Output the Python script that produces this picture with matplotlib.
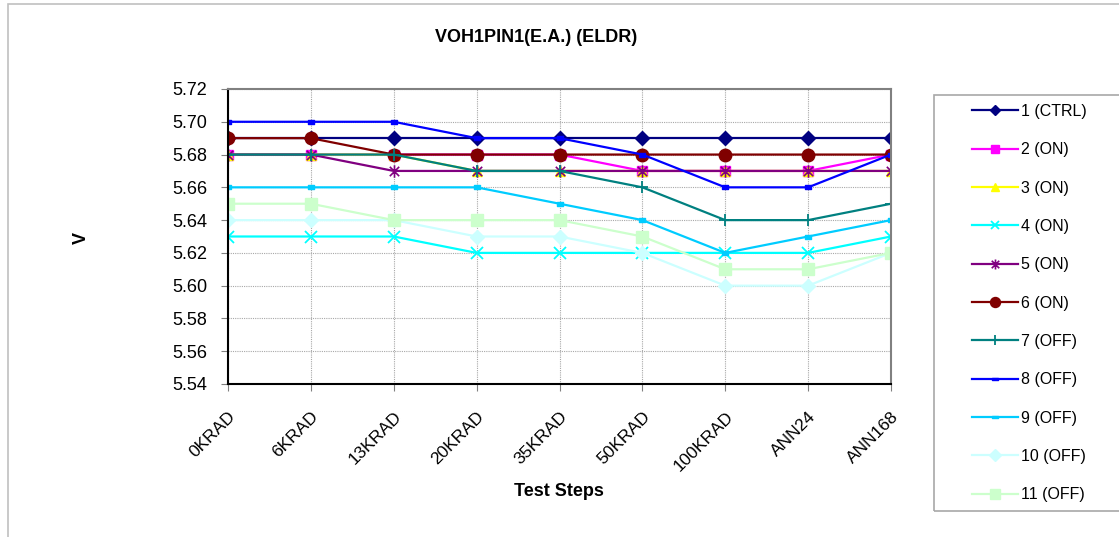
import matplotlib
matplotlib.use("Agg")
import matplotlib.pyplot as plt
from matplotlib.path import Path
from matplotlib.patches import Rectangle
from matplotlib.ticker import FormatStrFormatter, MultipleLocator

plt.rcParams['font.family'] = ['Liberation Sans', 'DejaVu Sans']

categories = ["0KRAD", "6KRAD", "13KRAD", "20KRAD", "35KRAD", "50KRAD", "100KRAD", "ANN24", "ANN168"]
series_names = ["1 (CTRL)", "2 (ON)", "3 (ON)", "4 (ON)", "5 (ON)", "6 (ON)",
                "7 (OFF)", "8 (OFF)", "9 (OFF)", "10 (OFF)", "11 (OFF)"]
s1 = [5.69, 5.69, 5.69, 5.69, 5.69, 5.69, 5.69, 5.69, 5.69]
s2 = [5.68, 5.68, 5.68, 5.68, 5.68, 5.67, 5.67, 5.67, 5.68]
s3 = [5.68, 5.68, 5.68, 5.67, 5.67, 5.67, 5.67, 5.67, 5.67]
s4 = [5.63, 5.63, 5.63, 5.62, 5.62, 5.62, 5.62, 5.62, 5.63]
s5 = [5.68, 5.68, 5.67, 5.67, 5.67, 5.67, 5.67, 5.67, 5.67]
s6 = [5.69, 5.69, 5.68, 5.68, 5.68, 5.68, 5.68, 5.68, 5.68]
s7 = [5.68, 5.68, 5.68, 5.67, 5.67, 5.66, 5.64, 5.64, 5.65]
s8 = [5.70, 5.70, 5.70, 5.69, 5.69, 5.68, 5.66, 5.66, 5.68]
s9 = [5.66, 5.66, 5.66, 5.66, 5.65, 5.64, 5.62, 5.63, 5.64]
s10 = [5.64, 5.64, 5.64, 5.63, 5.63, 5.62, 5.60, 5.60, 5.62]
s11 = [5.65, 5.65, 5.64, 5.64, 5.64, 5.63, 5.61, 5.61, 5.62]
all_series = [s1, s2, s3, s4, s5, s6, s7, s8, s9, s10, s11]

asterisk = Path([(0, -1), (0, 1), (-0.75, -0.75), (0.75, 0.75), (-0.75, 0.75), (0.75, -0.75)],
                [Path.MOVETO, Path.LINETO, Path.MOVETO, Path.LINETO, Path.MOVETO, Path.LINETO])
dash = Path([(-1, -0.45), (1, -0.45), (1, 0.45), (-1, 0.45), (-1, -0.45)],
            [Path.MOVETO, Path.LINETO, Path.LINETO, Path.LINETO, Path.CLOSEPOLY])

styles = [
    dict(color="#000080", marker="D", ms=7),
    dict(color="#FF00FF", marker="s", ms=7),
    dict(color="#FFFF00", marker="^", ms=7.5),
    dict(color="#00FFFF", marker="x", ms=8, mew=1.3),
    dict(color="#800080", marker=asterisk, ms=9, mew=1.2),
    dict(color="#800000", marker="o", ms=9),
    dict(color="#008080", marker="+", ms=9, mew=1.3),
    dict(color="#0000FF", marker=dash, ms=5),
    dict(color="#00CCFF", marker=dash, ms=5),
    dict(color="#CCFFFF", marker="D", ms=7.5),
    dict(color="#CCFFCC", marker="s", ms=9),
]

W, H = 1119, 537
fig = plt.figure(figsize=(W / 100, H / 100), dpi=100)
ax = fig.add_axes([228 / W, 1 - 384 / H, (891 - 228) / W, (384 - 89) / H])

x = list(range(len(categories)))
for name, ys, st in zip(series_names, all_series, styles):
    st = dict(st)
    c = st.pop("color")
    ax.plot(x, ys, color=c, lw=1.6, markerfacecolor=c, markeredgecolor=c,
            label=name, markersize=st.pop("ms"), marker=st.pop("marker"),
            mew=st.pop("mew", 1.0))

ax.set_xlim(0, len(categories) - 1)
ax.set_ylim(5.54, 5.72)
ax.yaxis.set_major_locator(MultipleLocator(0.02))
ax.yaxis.set_major_formatter(FormatStrFormatter('%.2f'))
ax.set_xticks(x)
ax.set_xticklabels(categories, rotation=45, ha='right', va='top', rotation_mode='anchor', fontsize=12.5)
ax.tick_params(axis='y', labelsize=13, length=5, color='#808080', pad=10)
ax.tick_params(axis='x', length=5, color='#808080', pad=13)
ax.grid(True, color='#a8a8a8', linestyle=(0, (1, 1)), linewidth=0.8)
ax.set_axisbelow(True)
for side in ['left', 'bottom']:
    ax.spines[side].set_color('black')
    ax.spines[side].set_linewidth(1.5)
for side in ['top', 'right']:
    ax.spines[side].set_color('#808080')
    ax.spines[side].set_linewidth(1.5)
for sp in ax.spines.values():
    sp.set_zorder(3)

fig.text(536 / W, 1 - 37 / H, "VOH1PIN1(E.A.) (ELDR)", ha='center', va='center',
         fontsize=13, fontweight='bold')
fig.text(559 / W, 1 - 491 / H, "Test Steps", ha='center', va='center',
         fontsize=13, fontweight='bold')
fig.text(81 / W, 1 - 238 / H, "V", ha='center', va='center', rotation=90,
         fontsize=13, fontweight='bold')

# outer chart border
fig.patches.append(Rectangle((8 / W, -0.1), 1.2, 1 - 4 / H + 0.1, transform=fig.transFigure,
                             fill=False, edgecolor='#c0c0c0', linewidth=1.2, zorder=0))
# legend box
fig.patches.append(Rectangle((934 / W, 1 - 511 / H), 0.2, (511 - 95) / H, transform=fig.transFigure,
                             fill=False, edgecolor='#a8a8a8', linewidth=1.2, zorder=0))

leg = fig.legend(loc='upper left', bbox_to_anchor=(972 / W, 1 - 104 / H), fontsize=11.5,
                 frameon=False, labelspacing=1.46,
                 handlelength=2.9, handletextpad=0.15, borderpad=0, borderaxespad=0,
                 markerscale=0.8)

fig.savefig("out.png", dpi=100)
